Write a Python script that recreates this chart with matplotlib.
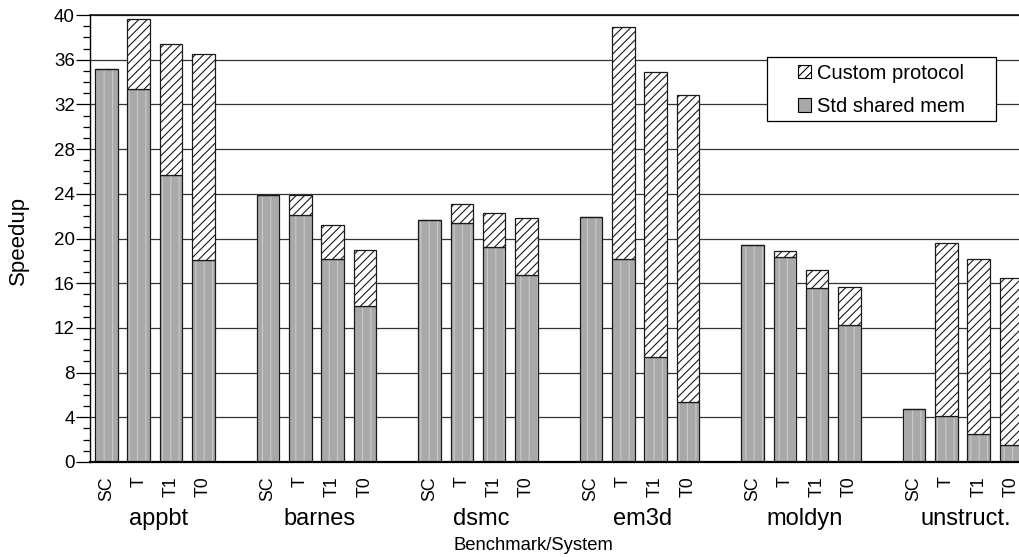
import matplotlib
matplotlib.use("Agg")
import matplotlib.pyplot as plt
from matplotlib.patches import Patch, Rectangle
from matplotlib.ticker import MultipleLocator
import matplotlib.transforms as mtransforms

plt.rcParams["font.family"] = ["Liberation Sans", "DejaVu Sans"]
plt.rcParams["hatch.linewidth"] = 0.8

benchmarks = ["appbt", "barnes", "dsmc", "em3d", "moldyn", "unstruct."]
systems = ["SC", "T", "T1", "T0"]

# std shared memory part of each bar (SC, T, T1, T0)
std_mem = {
    "appbt":      [35.2, 33.4, 25.7, 18.1],
    "barnes":     [23.9, 22.1, 18.2, 14.0],
    "dsmc":       [21.7, 21.4, 19.2, 16.7],
    "em3d":       [21.9, 18.2, 9.4, 5.4],
    "moldyn":     [19.4, 18.3, 15.6, 12.3],
    "unstruct.":  [4.7, 4.1, 2.5, 1.5],
}
# total speedup (std + custom protocol)
total = {
    "appbt":      [35.2, 39.6, 37.4, 36.5],
    "barnes":     [23.9, 23.9, 21.2, 19.0],
    "dsmc":       [21.7, 23.1, 22.3, 21.8],
    "em3d":       [21.9, 38.95, 34.9, 32.8],
    "moldyn":     [19.4, 18.9, 17.2, 15.7],
    "unstruct.":  [4.7, 19.6, 18.2, 16.5],
}

GRAY = "#a9a9a9"
HATCH_GRAY = "#c9c9c9"
W = 0.7

fig = plt.figure(figsize=(10.2, 5.57), dpi=100)
ax = fig.add_axes([90 / 1020, 95 / 557, 930 / 1020, 447 / 557])

xs, labels = [], []
for g, b in enumerate(benchmarks):
    pos = [g * 5 + i for i in range(4)]
    std = std_mem[b]
    cust = [t - s for t, s in zip(total[b], std)]
    # std shared mem: gray with light vertical texture
    ax.bar(pos, std, W, color=GRAY, edgecolor=HATCH_GRAY, hatch="||",
           linewidth=0, zorder=2)
    ax.bar(pos, std, W, fill=False, edgecolor="#1a1a1a", linewidth=0.9, zorder=3)
    # custom protocol: white with diagonal hatch
    ax.bar(pos, cust, W, bottom=std, color="white", edgecolor="#1a1a1a",
           hatch="////", linewidth=0.9, zorder=3)
    xs += pos
    labels += systems
    ax.text(g * 5 + 1.6, -0.128, b, transform=mtransforms.blended_transform_factory(
        ax.transData, ax.transAxes), ha="center", va="center", fontsize=17)

ax.set_xlim(-0.51, 28.28)
ax.set_ylim(0, 40)
ax.set_xticks(xs)
ax.set_xticklabels(labels, rotation=90, fontsize=12.8)
ax.tick_params(axis="x", length=0, pad=10)
ax.yaxis.set_major_locator(MultipleLocator(4))
ax.yaxis.set_minor_locator(MultipleLocator(1))
ax.tick_params(axis="y", which="major", length=10, width=0.9, labelsize=13.5, pad=1)
ax.tick_params(axis="y", which="minor", length=5, width=0.9)
ax.yaxis.grid(True, color="#333333", linewidth=0.9, zorder=0)
ax.set_axisbelow(True)
ax.spines["right"].set_visible(False)
ax.spines["top"].set_visible(False)
ax.axhline(40, color="#111111", linewidth=1.2, zorder=1, clip_on=False)
ax.spines["bottom"].set_linewidth(1.6)
ax.spines["left"].set_linewidth(1.0)
fig.text(18 / 1020, 1 - 240 / 557, "Speedup", rotation=90, ha="center",
         va="center", fontsize=16)
fig.text(533 / 1020, 12 / 557, "Benchmark/System", ha="center",
         va="center", fontsize=13.3)

# legend box
rect = Rectangle((767 / 1020, 1 - 121 / 557), 229 / 1020, 64 / 557,
                 transform=fig.transFigure, facecolor="white", edgecolor="black",
                 linewidth=0.9, zorder=5, clip_on=False)
ax.add_patch(rect)
handles = [
    Patch(facecolor="white", edgecolor="black", hatch="////", linewidth=0.8),
    Patch(facecolor=GRAY, edgecolor="black", linewidth=0.8),
]
leg = ax.legend(handles, ["Custom protocol", "Std shared mem"], loc="center left",
                bbox_to_anchor=(798 / 1020, 1 - 90 / 557),
                bbox_transform=fig.transFigure, frameon=False, fontsize=14.5,
                handlelength=0.66, handleheight=0.66, handletextpad=0.3,
                labelspacing=0.72, borderpad=0, borderaxespad=0)
leg.set_zorder(6)

fig.savefig("out.png", dpi=100)
